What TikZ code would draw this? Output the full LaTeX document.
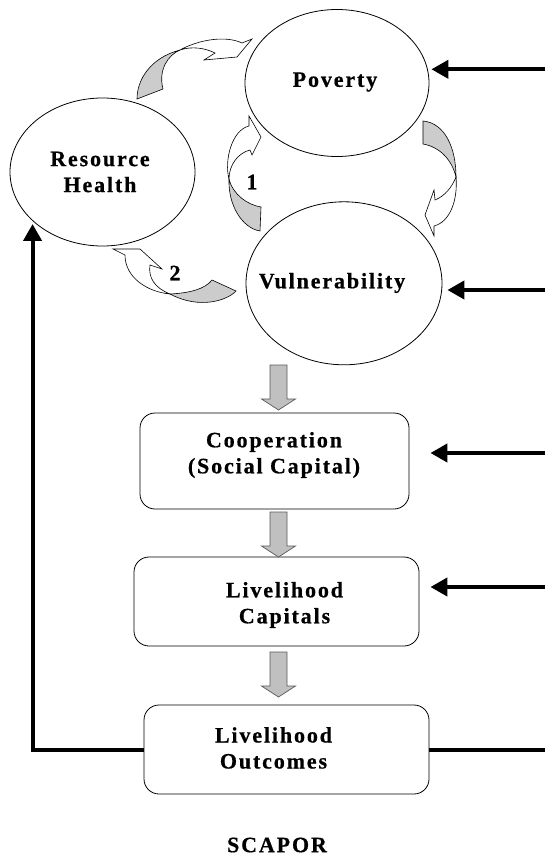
\documentclass[tikz,border=0pt]{standalone}
\usepackage{fontspec}
\setmainfont{Liberation Serif}[LetterSpace=8.5,BoldFeatures={FakeBold=0.6}]
\usetikzlibrary{shapes.geometric,arrows.meta}
\definecolor{shade}{RGB}{204,204,204}
\definecolor{blockgray}{RGB}{192,192,192}

\begin{document}
\begin{tikzpicture}[x=1pt,y=-1pt,
    every node/.style={inner sep=0pt},
    blob/.style={draw, ellipse, line width=0.8pt},
    box/.style={draw, rectangle, rounded corners=15pt, line width=0.8pt},
    lbl/.style={font=\fontsize{22}{26}\selectfont\bfseries, align=center},
    feed/.style={line width=4pt, -{Triangle[length=17pt,width=18pt]}},
    down/.style={draw=black!65, fill=blockgray, line width=0.7pt},
    twist/.style={draw, line width=0.6pt, fill=shade},
    flat/.style={draw, line width=0.6pt, fill=white}]
  \useasboundingbox (0,0) rectangle (545,858);

  \node[blob, minimum width=185pt, minimum height=148pt] (res) at (102.5,172) {};
  \node[blob, minimum width=184pt, minimum height=147pt] (pov) at (337,83) {};
  \node[blob, minimum width=196pt, minimum height=163pt] (vul) at (344,283.3) {};
  \node[box, minimum width=269pt, minimum height=96pt] (coop) at (274.5,461) {};
  \node[box, minimum width=285pt, minimum height=89pt] (cap) at (276.5,601.5) {};
  \node[box, minimum width=285pt, minimum height=89pt] (out) at (286.5,749.5) {};

  \node[lbl] (rest) at (100,172) {Resource\\Health};
  \node[lbl] (povt) at (335,82) {Poverty};
  \node[lbl] (vult) at (332,283) {Vulnerability};
  \node[lbl] (coopt) at (274,455) {Cooperation\\(Social Capital)};
  \node[lbl] (capt) at (284.5,605) {Livelihood\\Capitals};
  \node[lbl] (outt) at (273.5,748) {Livelihood\\Outcomes};
  \node[lbl] (one) at (252,182) {1};
  \node[lbl] (two) at (175,273) {2};
  \node[lbl] (title) at (277,845) {SCAPOR};

  % curved arrows round the triangle
  \draw[twist] (137,99) .. controls (137,80) and (150,58) .. (180,50)
    .. controls (168,55) and (158,70) .. (163,89) -- cycle;
  \draw[flat] (180,50) .. controls (198,40) and (225,35) .. (242,43) -- (252,39)
    -- (237,57) -- (204,60) -- (215,53) .. controls (205,48) and (192,46) .. (180,50) -- cycle;
  \draw[twist] (423,121) .. controls (445,123) and (456,148) .. (456,177)
    .. controls (452,160) and (440,147) .. (423,144) -- cycle;
  \draw[flat] (456,177) .. controls (458,200) and (450,222) .. (434,226) -- (434,236)
    -- (425,215) -- (434,190) -- (435,200) .. controls (445,196) and (452,187) .. (456,177) -- cycle;
  \draw[twist] (229,179) .. controls (228,205) and (242,228) .. (260,231) -- (261,207)
    .. controls (248,205) and (233,195) .. (229,179) -- cycle;
  \draw[flat] (229,179) .. controls (224,160) and (232,130) .. (249,126) -- (249,116)
    -- (261,137) -- (252,155) -- (250,150) .. controls (238,153) and (229,165) .. (229,179) -- cycle;
  \draw[twist] (170,294) .. controls (190,293) and (205,289) .. (212,280) -- (236,291)
    .. controls (228,300) and (200,310) .. (170,294) -- cycle;
  \draw[flat] (125,255) -- (113,249) -- (140,249) -- (162,269) -- (150,265)
    .. controls (148,278) and (155,288) .. (170,294)
    .. controls (148,292) and (125,278) .. (125,255) -- cycle;

  % block arrows down the chain
  \foreach \t in {410,557,697}
    \draw[down, shift={(278.5,\t)}] (-8.5,-45) -- (8.5,-45) -- (8.5,-11) -- (17,-11)
      -- (0,0) -- (-17,-11) -- (-8.5,-11) -- cycle;

  \coordinate (ipov) at (545,69.3);
  \coordinate (ivul) at (545,290);
  \coordinate (icoop) at (545,453);
  \coordinate (icap) at (545,587);
  \coordinate (iout) at (545,749.5);
  \draw[feed, shorten >=2pt] (ipov) -- (ipov -| pov.east);
  \draw[feed, shorten >=5pt] (ivul) -- (ivul -| vul.east);
  \draw[feed, shorten >=21pt] (icoop) -- (icoop -| coop.east);
  \draw[feed, shorten >=11pt] (icap) -- (icap -| cap.east);
  \draw[line width=4pt] (out.east) -- (iout);
  \draw[feed, shorten >=3pt] (out.west) -| (res.215);
\end{tikzpicture}
\end{document}
